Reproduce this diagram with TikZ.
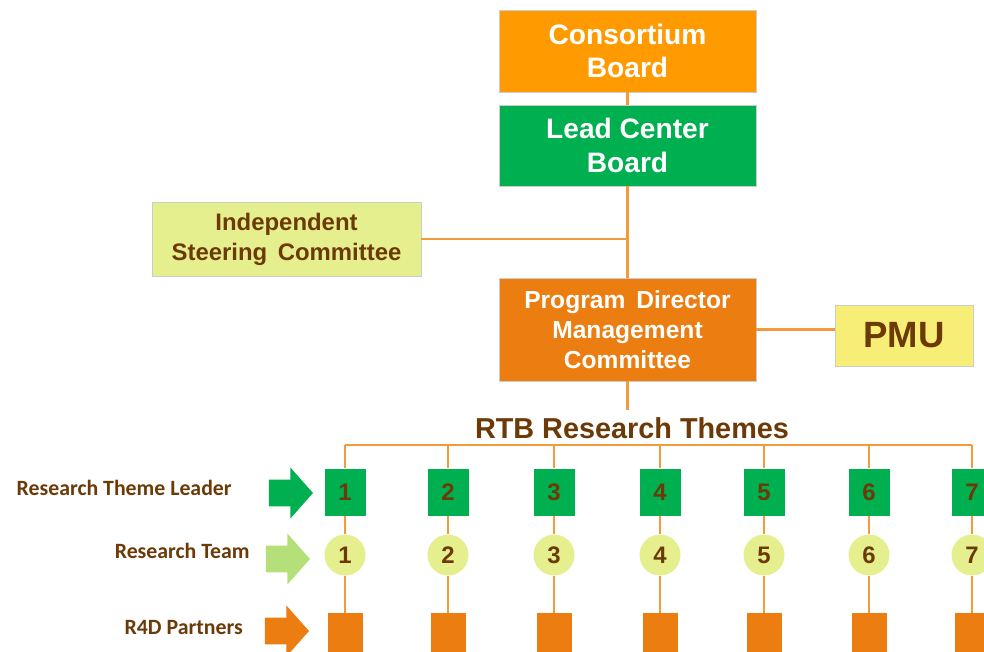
\documentclass[tikz,border=0pt]{standalone}
\usepackage{fontspec}
\setmainfont{Liberation Sans}
\newfontfamily\calibri{Carlito}
\usetikzlibrary{positioning,shapes.arrows}

\definecolor{boardorange}{HTML}{FF9A00}
\definecolor{leadgreen}{HTML}{00B050}
\definecolor{paleyellow}{HTML}{E6EF8E}
\definecolor{pdorange}{HTML}{EC7D10}
\definecolor{pmuyellow}{HTML}{F7EE78}
\definecolor{teamgreen}{HTML}{B5DF78}
\definecolor{textbrown}{HTML}{6B3A07}
\definecolor{linkorange}{HTML}{F39A3A}

\begin{document}
\begin{tikzpicture}[x=0.025cm,y=-0.025cm,font=\bfseries]
  \tikzstyle{box}=[rectangle, draw=white!80!black, line width=0.4pt, align=center, inner sep=0pt]
  \tikzstyle{link}=[draw=linkorange, line width=1.7pt]
  \tikzstyle{leader}=[rectangle, fill=leadgreen, minimum width=1.025cm, minimum height=1.175cm, inner sep=0pt,
    text=textbrown, font=\bfseries\fontsize{17}{20}\selectfont]
  \tikzstyle{team}=[circle, fill=paleyellow, minimum size=1.025cm, inner sep=0pt,
    text=textbrown, font=\bfseries\fontsize{17}{20}\selectfont]
  \tikzstyle{partner}=[rectangle, fill=pdorange, minimum width=0.875cm, minimum height=1.0cm, inner sep=0pt]
  \tikzstyle{pointer}=[single arrow, minimum height=1.1cm, inner xsep=0pt, inner ysep=0.33cm,
    single arrow head extend=0.3cm, single arrow tip angle=97]
  \tikzstyle{rowlabel}=[anchor=east, inner sep=0pt, text=textbrown, font=\calibri\bfseries\fontsize{15.5}{18}\selectfont]

  \useasboundingbox (0,0) rectangle (984,651);
  \clip (0,0) rectangle (984,651);

  % upper boards
  \node[box, fill=boardorange, text=white, minimum width=6.425cm, minimum height=2.05cm,
    font=\bfseries\fontsize{20}{24}\selectfont] (cb) at (627.5,51) {Consortium\\Board};
  \node[box, fill=leadgreen, text=white, minimum width=6.425cm, minimum height=2.025cm,
    font=\bfseries\fontsize{20}{24}\selectfont] (lcb) at (627.5,145.5) {Lead Center\\Board};
  \node[box, fill=paleyellow, text=textbrown, minimum width=6.725cm, minimum height=1.85cm,
    font=\bfseries\fontsize{17}{21.5}\selectfont] (isc) at (286.5,239) {Independent\\Steering\, Committee};
  \node[box, fill=pdorange, text=white, minimum width=6.425cm, minimum height=2.575cm,
    font=\bfseries\fontsize{17.5}{21.5}\selectfont] (pdmc) at (627.5,329.5) {Program\, Director\\Management\\Committee};
  \node[box, fill=pmuyellow, text=textbrown, minimum width=3.45cm, minimum height=1.525cm,
    font=\bfseries\fontsize{26}{30}\selectfont] (pmu) at (904,335.5) {PMU};
  \node[text=textbrown, inner sep=0pt, font=\bfseries\fontsize{20.5}{24}\selectfont] (rtb) at (632,428) {RTB Research Themes};

  \coordinate (iscjoin) at (isc.east -| lcb.south);
  \coordinate (pmujoin) at (pdmc.east -| pmu.west);
  \coordinate (rtbtop) at (627.5,410);

  \path[link]
    (cb.south) edge (lcb.north)
    (lcb.south) edge (pdmc.north)
    (isc.east) edge (iscjoin)
    (pdmc.east) edge (pmujoin)
    (pdmc.south) edge (rtbtop);

  % row labels and pointers
  \node[rowlabel] (lbl1) at (232,488) {Research Theme Leader};
  \node[rowlabel] (lbl2) at (250,551) {Research Team};
  \node[rowlabel] (lbl3) at (243,627) {R4D Partners};
  \node[pointer, fill=leadgreen] (arr1) at (285,493) {};
  \node[pointer, fill=teamgreen] (arr2) at (282,559) {};
  \node[pointer, fill=pdorange] (arr3) at (281,631) {};

  % research themes
  \foreach \i/\x in {1/345,2/448,3/554,4/660,5/764,6/869,7/972} {
    \node[leader] (l\i) at (\x,492) {\i};
    \node[team] (t\i) at (\x,555) {\i};
    \node[partner] (p\i) at (\x,633) {};
    \coordinate (b\i) at (\x,445);
    \path[link] (b\i) edge (l\i.north) (l\i.south) edge (t\i.north) (t\i.south) edge (p\i.north);
  }
  \draw[link] (b1) -- (b7);
\end{tikzpicture}
\end{document}
